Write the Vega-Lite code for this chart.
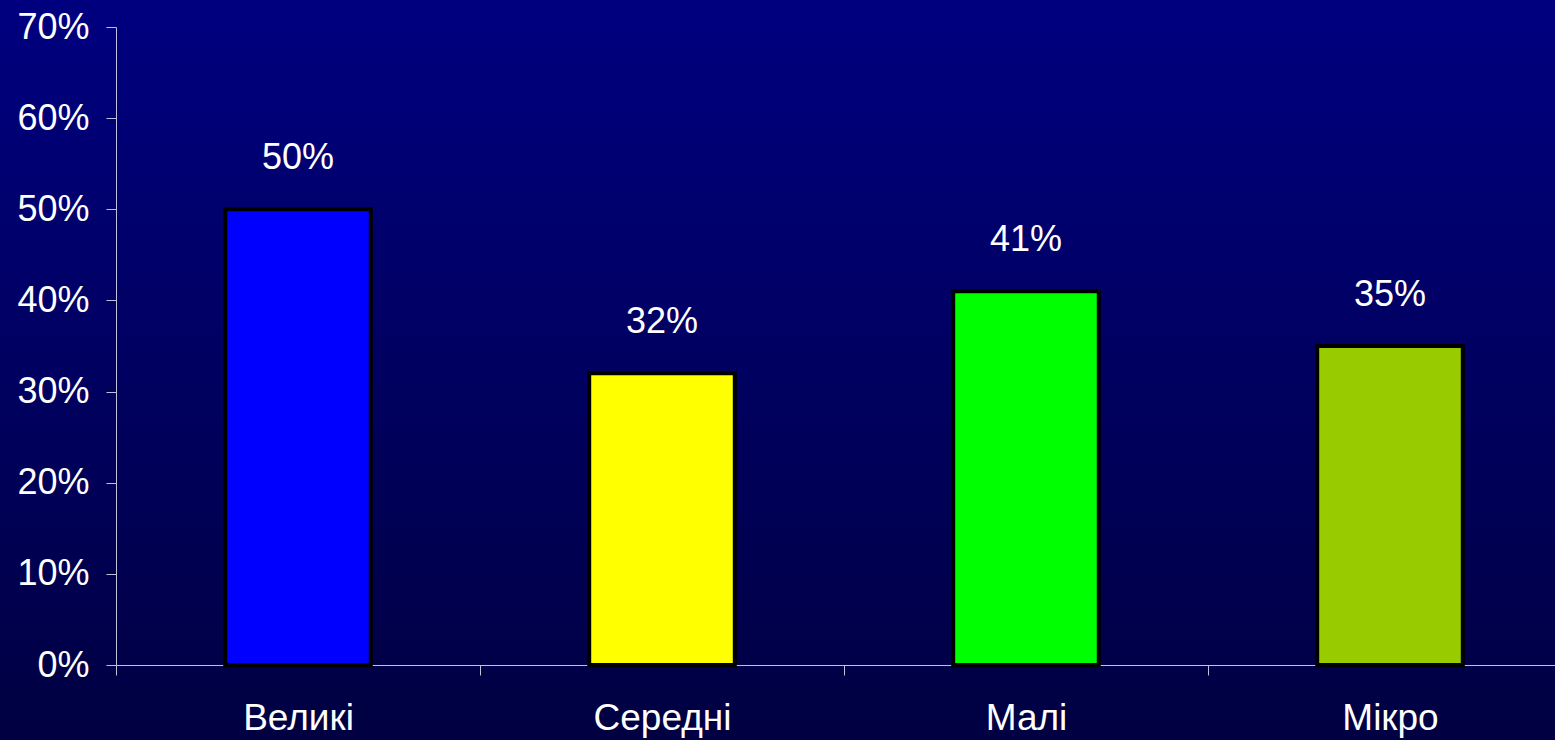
{
  "$schema": "https://vega.github.io/schema/vega-lite/v6.json",
  "width": 1555,
  "height": 740,
  "autosize": {"type": "none"},
  "padding": 0,
  "background": "#000060",
  "config": {
    "font": "Liberation Sans",
    "view": {
      "stroke": null,
      "fill": {
        "gradient": "linear",
        "x1": 0, "y1": 0, "x2": 0, "y2": 1,
        "stops": [
          {"offset": 0, "color": "#000080"},
          {"offset": 1, "color": "#000042"}
        ]
      }
    },
    "axis": {
      "domainColor": "#c0c0d8",
      "tickColor": "#c0c0d8",
      "domainWidth": 1,
      "tickWidth": 1,
      "labelColor": "white",
      "labelFontSize": 36,
      "labelFont": "Liberation Sans",
      "tickSize": 10,
      "grid": false,
      "title": null
    }
  },
  "data": {
    "values": [
      {"category": "Великі", "value": 0.50},
      {"category": "Середні", "value": 0.32},
      {"category": "Малі", "value": 0.41},
      {"category": "Мікро", "value": 0.35}
    ]
  },
  "encoding": {
    "x": {
      "field": "category",
      "type": "nominal",
      "sort": null,
      "scale": {"range": [116, 1572], "paddingInner": 0, "paddingOuter": 0},
      "axis": {"orient": "bottom", "offset": -75, "tickBand": "extent", "labelAngle": 0, "labelPadding": 25, "labelBaseline": "top", "labelFontSize": 37}
    },
    "y": {
      "field": "value",
      "type": "quantitative",
      "scale": {"domain": [0, 0.7], "range": [665, 27], "nice": false},
      "axis": {"orient": "left", "offset": -116, "format": ".0%", "values": [0, 0.1, 0.2, 0.3, 0.4, 0.5, 0.6, 0.7], "labelPadding": 17}
    }
  },
  "layer": [
    {
      "mark": {"type": "bar", "stroke": "black", "strokeWidth": 4, "width": {"band": 0.4}},
      "encoding": {
        "color": {
          "field": "category",
          "type": "nominal",
          "scale": {
            "domain": ["Великі", "Середні", "Малі", "Мікро"],
            "range": ["#0000FF", "#FFFF00", "#00FF00", "#99CC00"]
          },
          "legend": null
        }
      }
    },
    {
      "mark": {"type": "text", "dy": -40, "baseline": "alphabetic", "fontSize": 36, "color": "white", "font": "Liberation Sans"},
      "encoding": {
        "text": {"field": "value", "type": "quantitative", "format": ".0%"}
      }
    }
  ]
}
